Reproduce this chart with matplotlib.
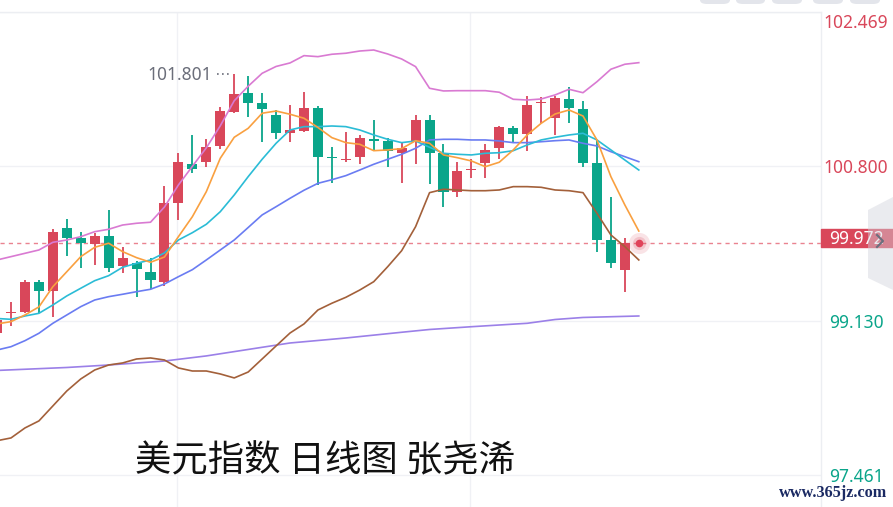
import matplotlib
matplotlib.use('Agg')
import matplotlib.pyplot as plt
import numpy as np
from matplotlib.patches import Rectangle, Polygon, FancyBboxPatch
from matplotlib.transforms import blended_transform_factory

plt.rcParams['font.family'] = ['Noto Sans CJK SC', 'DejaVu Sans']

# daily candles, index -1 .. 44
opens = [98.997, 99.210, 99.228, 99.552, 99.455, 100.130, 100.022, 99.960, 100.050, 99.722,
         99.758, 99.660, 99.552, 100.407, 100.825, 100.850, 101.020, 101.384, 101.590, 101.482,
         101.355, 101.164, 101.185, 101.434, 100.901, 100.868, 100.898, 101.090, 101.074, 100.947,
         101.074, 101.301, 100.941, 100.526, 100.760, 100.839, 100.995, 101.218, 101.146, 101.485,
         101.320, 101.528, 101.417, 100.833, 100.003, 99.679]
highs = [99.214, 99.336, 99.571, 99.571, 100.122, 100.230, 100.086, 100.076, 100.328, 99.924,
         99.779, 99.805, 100.587, 100.941, 101.139, 101.092, 101.445, 101.801, 101.780, 101.590,
         101.409, 101.463, 101.607, 101.453, 101.006, 101.175, 101.139, 101.301, 101.103, 101.049,
         101.355, 101.355, 101.042, 100.850, 100.876, 101.042, 101.236, 101.236, 101.561, 101.547,
         101.561, 101.655, 101.510, 101.085, 100.472, 100.028]
lows = [98.965, 99.076, 99.214, 99.214, 99.174, 99.830, 99.697, 99.733, 99.660, 99.650,
        99.390, 99.470, 99.500, 100.220, 100.725, 100.790, 100.984, 101.374, 101.330, 101.066,
        101.092, 101.066, 101.175, 100.598, 100.623, 100.850, 100.825, 100.969, 100.796, 100.623,
        100.822, 100.609, 100.363, 100.465, 100.671, 100.671, 100.879, 101.049, 100.969, 101.265,
        101.139, 101.272, 100.790, 99.877, 99.697, 99.444]
closes = [99.138, 99.221, 99.552, 99.455, 100.093, 100.022, 99.974, 100.050, 99.697, 99.805,
          99.686, 99.571, 100.407, 100.850, 100.768, 101.006, 101.402, 101.579, 101.488, 101.420,
          101.164, 101.190, 101.434, 100.898, 100.885, 100.883, 101.103, 101.077, 100.969, 100.995,
          101.301, 100.947, 100.526, 100.750, 100.774, 100.977, 101.222, 101.146, 101.463, 101.499,
          101.542, 101.434, 100.833, 100.003, 99.751, 99.972]

# indicator lines, index -1 .. 45 (last point = live price)
ma5 = [99.095, 99.120, 99.192, 99.279, 99.498, 99.660, 99.823, 99.924, 99.968, 99.877,
       99.812, 99.762, 99.819, 100.039, 100.255, 100.526, 100.887, 101.114, 101.211, 101.374,
       101.398, 101.363, 101.320, 101.220, 101.110, 101.056, 101.038, 100.969, 100.977, 100.991,
       101.077, 101.049, 100.923, 100.893, 100.858, 100.796, 100.844, 100.977, 101.139, 101.265,
       101.366, 101.409, 101.344, 101.085, 100.688, 100.382, 100.100]
ma10 = [99.154, 99.145, 99.181, 99.210, 99.300, 99.398, 99.481, 99.563, 99.617, 99.708,
        99.751, 99.787, 99.863, 100.003, 100.082, 100.173, 100.309, 100.490, 100.688, 100.876,
        101.049, 101.193, 101.229, 101.229, 101.236, 101.229, 101.193, 101.139, 101.092, 101.056,
        101.074, 101.006, 100.941, 100.930, 100.923, 100.941, 100.947, 100.969, 101.031, 101.085,
        101.114, 101.139, 101.157, 101.085, 100.977, 100.868, 100.760]
ma20 = [98.813, 98.849, 98.914, 98.994, 99.102, 99.192, 99.282, 99.354, 99.390, 99.416,
        99.444, 99.470, 99.527, 99.606, 99.682, 99.787, 99.895, 100.003, 100.138, 100.274,
        100.363, 100.454, 100.541, 100.616, 100.655, 100.699, 100.760, 100.822, 100.876, 100.930,
        100.995, 101.085, 101.092, 101.092, 101.085, 101.085, 101.074, 101.056, 101.056, 101.066,
        101.077, 101.085, 101.049, 101.020, 100.958, 100.904, 100.850]
boll_up = [99.787, 99.823, 99.859, 99.895, 99.978, 100.003, 100.039, 100.093, 100.119, 100.165,
           100.184, 100.195, 100.360, 100.598, 100.800, 101.000, 101.238, 101.509, 101.666, 101.806,
           101.880, 101.918, 101.997, 101.986, 102.012, 102.023, 102.047, 102.058, 102.015, 101.961,
           101.878, 101.644, 101.615, 101.618, 101.618, 101.618, 101.601, 101.525, 101.517, 101.528,
           101.572, 101.633, 101.596, 101.715, 101.850, 101.904, 101.921]
boll_dn = [97.832, 97.862, 97.970, 98.046, 98.208, 98.370, 98.500, 98.597, 98.651, 98.673,
           98.716, 98.727, 98.705, 98.619, 98.586, 98.586, 98.554, 98.511, 98.575, 98.716,
           98.857, 98.997, 99.095, 99.246, 99.319, 99.383, 99.462, 99.552, 99.714, 99.887,
           100.147, 100.515, 100.552, 100.544, 100.536, 100.536, 100.544, 100.580, 100.580, 100.573,
           100.544, 100.536, 100.515, 100.292, 100.057, 99.931, 99.787]
# long moving average, read at a few candles
ma_long_idx = [-1, 4, 7, 11, 14, 17, 20, 24, 28, 30, 33, 37, 39, 41, 45]
ma_long = [98.592, 98.624, 98.651, 98.694, 98.749, 98.819, 98.889, 98.943, 99.005, 99.035,
           99.065, 99.102, 99.143, 99.165, 99.181]

y_ticks = [102.469, 100.800, 99.130, 97.461]
last_price = 99.972
high_label = 101.801
title = '美元指数 日线图 张尧浠'
watermark = 'www.365jz.com'

RED = '#d9475a'
GREEN = '#0aa58a'
W, H = 893, 507

fig = plt.figure(figsize=(W / 100, H / 100), dpi=100)
ax = fig.add_axes([0, 0, 821 / W, 495 / H])
ax.set_xlim(-0.789, 58.06)
ax.set_ylim(97.115, 102.469)
ax.set_xticks([])
ax.set_yticks([])
for s in ['left', 'bottom']:
    ax.spines[s].set_visible(False)
for s in ['top', 'right']:
    ax.spines[s].set_color('#eceef2')
    ax.spines[s].set_linewidth(1)

for v in y_ticks:
    ax.axhline(v, color='#f0f1f5', lw=1, zorder=0)
for xv in [11.9, 32.9]:
    ax.axvline(xv, color='#f0f1f5', lw=1, zorder=0)

# candles
o = np.array(opens); h = np.array(highs); l = np.array(lows); c = np.array(closes)
xc = np.arange(-1, len(o) - 1)
cols = np.where(c >= o, RED, GREEN)
ax.vlines(xc, l, h, colors=cols, lw=1.3, zorder=2)
ax.bar(xc, np.maximum(np.abs(c - o), 0.014), bottom=np.minimum(o, c), width=0.72,
       color=cols, zorder=3)

# indicator lines
xl = np.arange(-1, len(ma5) - 1)
ax.plot(ma_long_idx, ma_long, color='#9b80e8', lw=1.2, zorder=4)
ax.plot(xl, boll_dn, color='#a3603a', lw=1.2, zorder=4)
ax.plot(xl, boll_up, color='#d97ad2', lw=1.2, zorder=4)
ax.plot(xl, ma20, color='#6a7cf2', lw=1.2, zorder=4)
ax.plot(xl, ma10, color='#2bbcd6', lw=1.2, zorder=4)
ax.plot(xl, ma5, color='#f9a040', lw=1.2, zorder=4)

# live price line + dot
ax.axhline(last_price, color='#ea8390', lw=1, ls=(0, (3, 3)), zorder=1)
ax.scatter([xl[-1]], [last_price], s=230, color=RED, alpha=0.15, zorder=5, lw=0)
ax.scatter([xl[-1]], [last_price], s=90, color=RED, alpha=0.2, zorder=5, lw=0)
ax.scatter([xl[-1]], [last_price], s=30, color='#e0435a', zorder=6, lw=0)

# highest point label
ax.text(14.4, high_label - 0.013, f'{high_label:.3f}', ha='right', va='center',
        fontsize=12.5, color='#6b6e7a', family=['Noto Sans', 'DejaVu Sans'], zorder=6)
ax.plot([14.8, 15.75], [high_label, high_label], color='#6b6e7a', lw=1.2,
        ls=(0, (1, 2)), zorder=6)

# y labels on the right panel
trans = blended_transform_factory(ax.transAxes, ax.transData)
for i, v in enumerate(y_ticks):
    dy = -10.5 if i == 0 else -2
    ax.annotate(f'{v:.3f}', xy=(856 / 821, v), xycoords=trans, xytext=(0, dy),
                textcoords='offset pixels', ha='center', va='center', fontsize=12.5,
                color=RED if v > last_price else GREEN,
                family=['Noto Sans', 'DejaVu Sans'], annotation_clip=False)


def fx(px):
    return px / W


def fy(py):
    return 1 - py / H


fig.patches.append(Rectangle((fx(821), fy(247)), 72 / W, 18 / H, transform=fig.transFigure,
                             color=RED, zorder=5))
fig.text(fx(856), fy(238.5), f'{last_price:.3f}', ha='center', va='center', color='white',
         fontsize=12.5, family=['Noto Sans', 'DejaVu Sans'], zorder=6)
hexa = Polygon([(fx(868), fy(210)), (fx(893), fy(197)), (fx(893), fy(290)), (fx(868), fy(278))],
               closed=True, transform=fig.transFigure, facecolor='#d2d4dc', alpha=0.45,
               edgecolor='none', zorder=7)
fig.patches.append(hexa)
fig.lines.append(plt.Line2D([fx(877), fx(883), fx(877)], [fy(235), fy(241), fy(247)],
                            transform=fig.transFigure, color='#6b6f7d', lw=1.5, zorder=8))

# toolbar buttons at the top
for x0, x1 in [(700, 730), (736, 765), (772, 802), (813, 843), (850, 880)]:
    fig.patches.append(FancyBboxPatch((fx(x0), fy(4)), (x1 - x0) / W, 14 / H,
                                      boxstyle='round,pad=0,rounding_size=0.008',
                                      transform=fig.transFigure, facecolor='#e3e5eb',
                                      edgecolor='none', zorder=5))

fig.text(fx(135), fy(461), title, ha='left', va='center', fontsize=26.2, color='#111111')
fig.text(fx(779), fy(493), watermark, ha='left', va='center', fontsize=11.7,
         color='#1b2a63', family=['Liberation Serif'], fontweight='bold')

fig.savefig('out.png', dpi=100)
